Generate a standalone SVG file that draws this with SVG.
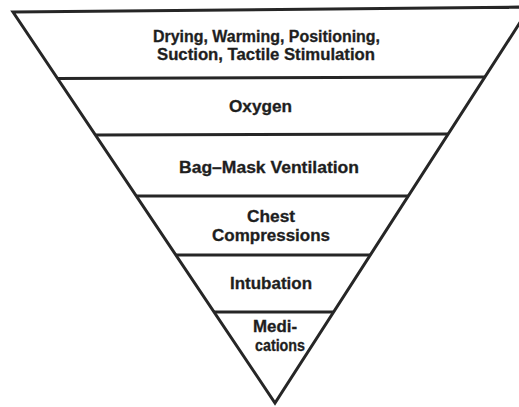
<svg xmlns="http://www.w3.org/2000/svg" width="519" height="407" viewBox="0 0 519 407">
<style>
.ln{stroke:#262626;stroke-width:3;fill:none;stroke-linejoin:miter}
.t{font-family:"Liberation Sans Narrow","Liberation Sans",Arial,sans-serif;font-weight:bold;font-size:16px;fill:#1e1e1e;stroke:#1e1e1e;stroke-width:0.3}
</style>
<rect width="519" height="407" fill="#ffffff"/>
<g id="frame">
<polygon class="ln" points="13,12 530,7 275,403"/>
<line class="ln" x1="57" y1="78.5" x2="485" y2="77"/>
<line class="ln" x1="95" y1="135" x2="448" y2="134"/>
<line class="ln" x1="136" y1="196" x2="409" y2="196"/>
<line class="ln" x1="176" y1="255" x2="370" y2="255"/>
<line class="ln" x1="214" y1="312" x2="334" y2="312"/>
</g>
<g id="band1">
<text class="t" x="153" y="42" textLength="227" lengthAdjust="spacingAndGlyphs">Drying, Warming, Positioning,</text>
<text class="t" x="157" y="60" textLength="218" lengthAdjust="spacingAndGlyphs">Suction, Tactile Stimulation</text>
</g>
<g id="band2">
<text class="t" x="229" y="112" textLength="63" lengthAdjust="spacingAndGlyphs">Oxygen</text>
</g>
<g id="band3">
<text class="t" x="179" y="172.5" textLength="180" lengthAdjust="spacingAndGlyphs">Bag–Mask Ventilation</text>
</g>
<g id="band4">
<text class="t" x="247" y="222" textLength="48" lengthAdjust="spacingAndGlyphs">Chest</text>
<text class="t" x="212" y="240.5" textLength="118" lengthAdjust="spacingAndGlyphs">Compressions</text>
</g>
<g id="band5">
<text class="t" x="230" y="289" textLength="82" lengthAdjust="spacingAndGlyphs">Intubation</text>
</g>
<g id="band6">
<text class="t" x="253" y="332" textLength="44" lengthAdjust="spacingAndGlyphs">Medi-</text>
<text class="t" x="255" y="350.5" textLength="50" lengthAdjust="spacingAndGlyphs">cations</text>
</g>
</svg>
